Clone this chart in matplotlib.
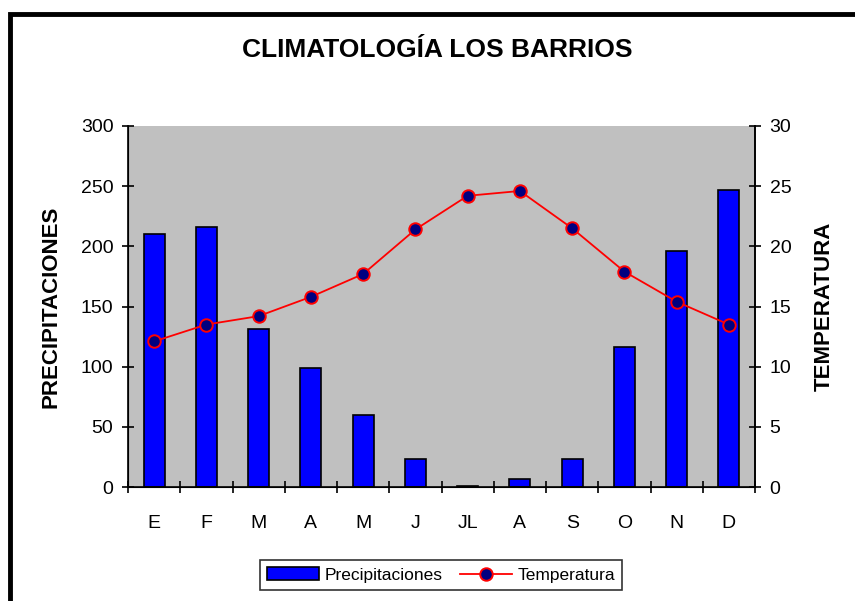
import matplotlib
matplotlib.use("Agg")
import matplotlib.pyplot as plt
import numpy as np
from matplotlib.patches import Rectangle

plt.rcParams['font.family'] = ['Liberation Sans', 'DejaVu Sans']

meses = ['E', 'F', 'M', 'A', 'M', 'J', 'JL', 'A', 'S', 'O', 'N', 'D']
precipitaciones = [210, 216, 131, 99, 60, 23.5, 1, 6.5, 23.5, 116, 196, 247]
temperatura = [12.1, 13.5, 14.2, 15.8, 17.7, 21.4, 24.2, 24.6, 21.5, 17.9, 15.4, 13.5]

fig = plt.figure(figsize=(8.55, 6.01), dpi=100)
fig.patch.set_facecolor('white')

# marco negro (solo arriba e izquierda visibles)
fig.patches.append(Rectangle((9.5 / 855, -0.05), 1.1, 1 - 14.5 / 601 + 0.05,
                             transform=fig.transFigure, fill=False,
                             edgecolor='black', linewidth=3.5))

ax = fig.add_axes([128 / 855, 1 - 487 / 601, (755 - 128) / 855, (487 - 126) / 601])
ax.set_facecolor('#C0C0C0')
x = np.arange(len(meses))
barras = ax.bar(x, precipitaciones, width=0.4, color='#0000FF', edgecolor='black',
                linewidth=1.2, label='Precipitaciones', zorder=2)
ax.set_xlim(-0.5, len(meses) - 0.5)
ax.set_ylim(0, 300)
ax.set_yticks(range(0, 301, 50))
ax.set_xticks(x)
ax.set_xticklabels(meses, fontsize=14)
ax.set_xticks(np.arange(-0.5, len(meses), 1), minor=True)
ax.tick_params(axis='x', which='major', length=0, pad=20)
ax.tick_params(axis='x', which='minor', direction='inout', length=9, width=1.2)
ax.tick_params(axis='y', direction='inout', length=9, width=1.2, labelsize=14, pad=6)
ax.spines['top'].set_visible(False)
for s in ['left', 'bottom', 'right']:
    ax.spines[s].set_linewidth(1.2)
ax.set_ylabel('PRECIPITACIONES', fontsize=16, fontweight='bold', labelpad=14)

ax2 = ax.twinx()
linea, = ax2.plot(x, temperatura, color='#FF0000', linewidth=1.3, marker='o',
                  markersize=9, markerfacecolor='#000080', markeredgecolor='#FF0000',
                  markeredgewidth=1.4, label='Temperatura')
ax2.set_ylim(0, 30)
ax2.set_yticks(range(0, 31, 5))
ax2.tick_params(axis='y', direction='inout', length=9, width=1.2, labelsize=14, pad=6)
ax2.spines['top'].set_visible(False)
ax2.spines['right'].set_linewidth(1.2)
ax2.set_ylabel('TEMPERATURA', fontsize=16, fontweight='bold', labelpad=16)

fig.text(437 / 855, 1 - 50 / 601, 'CLIMATOLOGÍA LOS BARRIOS', ha='center', va='center',
         fontsize=19, fontweight='bold')

leg = fig.legend([barras, linea], ['Precipitaciones', 'Temperatura'],
                 loc='center', bbox_to_anchor=(441 / 855, 1 - 575 / 601), ncol=2,
                 fontsize=12.5, frameon=True, fancybox=False, edgecolor='black',
                 handlelength=3, handletextpad=0.3, columnspacing=1.0, borderpad=0.4)
leg.get_frame().set_linewidth(1.2)

fig.savefig('out.png', dpi=100)
